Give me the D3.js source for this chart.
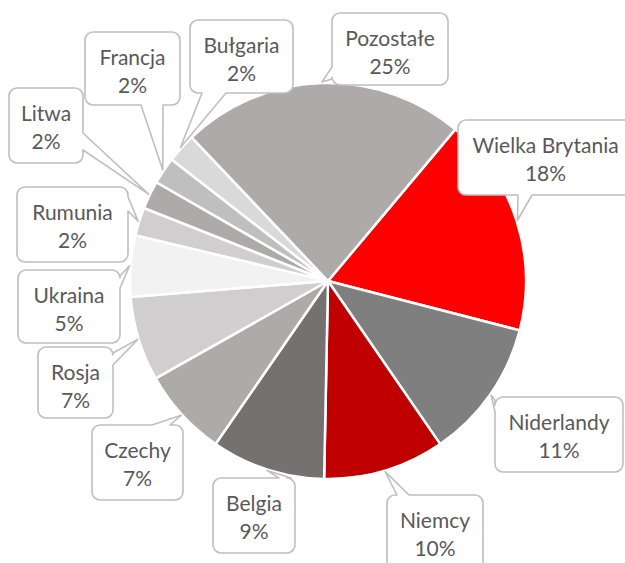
<!DOCTYPE html>
<html>
<head>
<meta charset="utf-8">
<script src="https://cdn.jsdelivr.net/npm/d3@7"></script>
<style>
  html, body { margin: 0; padding: 0; background: #ffffff; }
  svg { display: block; }
</style>
</head>
<body>
<svg id="chart" width="625" height="563"></svg>
<script>
// ---- data ----
const countries = ["Wielka Brytania", "Niderlandy", "Niemcy", "Belgia", "Czechy", "Rosja",
                   "Ukraina", "Rumunia", "Litwa", "Francja", "Bułgaria", "Pozostałe"];
const shares = [17.9, 11.4, 9.9, 9.3, 7.2, 6.9, 5.0, 2.3, 2.3, 2.2, 2.4, 23.2];
const shareLabels = ["18%", "11%", "10%", "9%", "7%", "7%", "5%", "2%", "2%", "2%", "2%", "25%"];
const sliceColors = ["#FF0000", "#7F7F7F", "#C00000", "#767171", "#AEAAAA", "#D0CECE",
                     "#F2F2F2", "#D0CECE", "#AEAAAA", "#BFBFBF", "#D9D9D9", "#AEAAAA"];

// ---- label box layout (x, y, w, h, side of tail, tail base offsets) ----
const boxLayout = {
  "Wielka Brytania": [458, 120, 175, 75, "bottom", 60, 74],
  "Niderlandy":      [495, 397, 128, 75, "left", 3, 15],
  "Niemcy":          [387, 495, 96, 80, "top", 10, 22],
  "Belgia":          [213, 478, 82, 75, "top", 66, 78],
  "Czechy":          [92, 425, 91, 75, "top", 60, 78],
  "Rosja":           [38, 347, 75, 71, "right", 6, 18],
  "Ukraina":         [18, 270, 102, 73, "right", 6, 18],
  "Rumunia":         [17, 187, 111, 75, "right", 10, 24],
  "Litwa":           [9, 88, 74, 75, "right", 45, 62],
  "Francja":         [85, 32, 95, 73, "bottom", 56, 78],
  "Bułgaria":        [190, 20, 103, 73, "bottom", 12, 36],
  "Pozostałe":       [332, 13, 116, 72, "left", 54, 66]
};

const cx = 328, cy = 281, R = 198;
const start = 40 * Math.PI / 180;

const svg = d3.select("#chart");
const g = svg.append("g").attr("transform", `translate(${cx},${cy})`);

const pie = d3.pie().sort(null).value(d => d.v)
  .startAngle(start).endAngle(start + 2 * Math.PI);
const arc = d3.arc().innerRadius(0).outerRadius(R);

const rows = countries.map((c, i) => ({ name: c, v: shares[i], label: shareLabels[i], color: sliceColors[i] }));
const arcs = pie(rows);

g.selectAll("path.slice").data(arcs).enter().append("path")
  .attr("class", "slice")
  .attr("d", arc)
  .attr("fill", d => d.data.color)
  .attr("stroke", "#ffffff")
  .attr("stroke-width", 2.5)
  .attr("stroke-linejoin", "round");

function calloutPath(b, tip) {
  const [x, y, w, h, side, b0, b1] = b;
  const r = 8;
  const p = [];
  p.push(`M${x + r},${y}`);
  if (side === "top") p.push(`L${x + b0},${y}L${tip[0]},${tip[1]}L${x + b1},${y}`);
  p.push(`L${x + w - r},${y}A${r},${r} 0 0 1 ${x + w},${y + r}`);
  if (side === "right") p.push(`L${x + w},${y + b0}L${tip[0]},${tip[1]}L${x + w},${y + b1}`);
  p.push(`L${x + w},${y + h - r}A${r},${r} 0 0 1 ${x + w - r},${y + h}`);
  if (side === "bottom") p.push(`L${x + b1},${y + h}L${tip[0]},${tip[1]}L${x + b0},${y + h}`);
  p.push(`L${x + r},${y + h}A${r},${r} 0 0 1 ${x},${y + h - r}`);
  if (side === "left") p.push(`L${x},${y + b1}L${tip[0]},${tip[1]}L${x},${y + b0}`);
  p.push(`L${x},${y + r}A${r},${r} 0 0 1 ${x + r},${y}Z`);
  return p.join("");
}

const labels = svg.append("g");
arcs.forEach(a => {
  const b = boxLayout[a.data.name];
  const mid = (a.startAngle + a.endAngle) / 2;
  const tip = [cx + (R + 1) * Math.sin(mid), cy - (R + 1) * Math.cos(mid)];
  labels.append("path")
    .attr("d", calloutPath(b, tip))
    .attr("fill", "#ffffff")
    .attr("stroke", "#BFBFBF")
    .attr("stroke-width", 1.6)
    .attr("stroke-linejoin", "round");
  const tx = b[0] + b[2] / 2;
  const t = labels.append("text")
    .attr("x", tx)
    .attr("text-anchor", "middle")
    .attr("font-family", "Lato, 'Open Sans', sans-serif")
    .attr("font-size", 21)
    .attr("fill", "#595959");
  t.append("tspan").attr("x", tx).attr("y", b[1] + 33).text(a.data.name);
  t.append("tspan").attr("x", tx).attr("y", b[1] + 61).text(a.data.label);
});
</script>
</body>
</html>
